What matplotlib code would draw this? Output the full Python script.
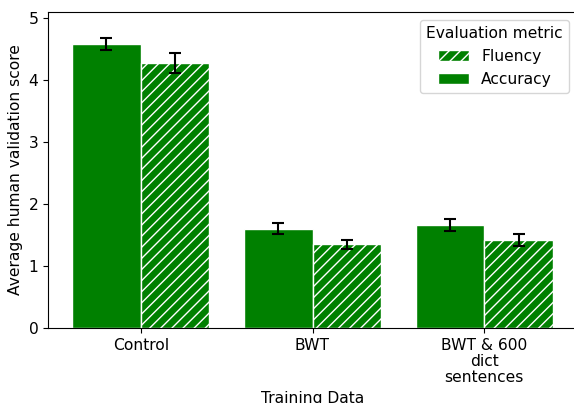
import matplotlib
matplotlib.use("Agg")
import matplotlib.pyplot as plt
import numpy as np

categories = ["Control", "BWT", "BWT & 600\ndict\nsentences"]
accuracy = [4.58, 1.60, 1.66]
accuracy_err = [0.10, 0.09, 0.10]
fluency = [4.28, 1.35, 1.42]
fluency_err = [0.16, 0.07, 0.09]

plt.rcParams['font.size'] = 11.2

fig = plt.figure(figsize=(5.74, 4.03), dpi=100)
ax = fig.add_axes([48/574., (403-328)/403., (577-48)/574., (328-12)/403.])

x = np.arange(len(categories))
w = 0.4
b_acc = ax.bar(x - w/2, accuracy, w, yerr=accuracy_err, color='green',
               edgecolor='white', capsize=4.5,
               error_kw=dict(ecolor='black', elinewidth=1.5, capthick=1.5),
               label='Accuracy')
b_flu = ax.bar(x + w/2, fluency, w, yerr=fluency_err, color='green',
               edgecolor='white', hatch='///', capsize=4.5,
               error_kw=dict(ecolor='black', elinewidth=1.5, capthick=1.5),
               label='Fluency')

ax.set_xticks(x)
ax.set_xticklabels(categories, linespacing=1.1)
ax.set_ylim(0, 5.1)
ax.set_xlim(-0.54, 2.54)
ax.set_xlabel("Training Data")
ax.set_ylabel("Average human validation score")

ax.legend(handles=[b_flu, b_acc], title="Evaluation metric", loc='upper right')

plt.savefig("out.png", dpi=100)
